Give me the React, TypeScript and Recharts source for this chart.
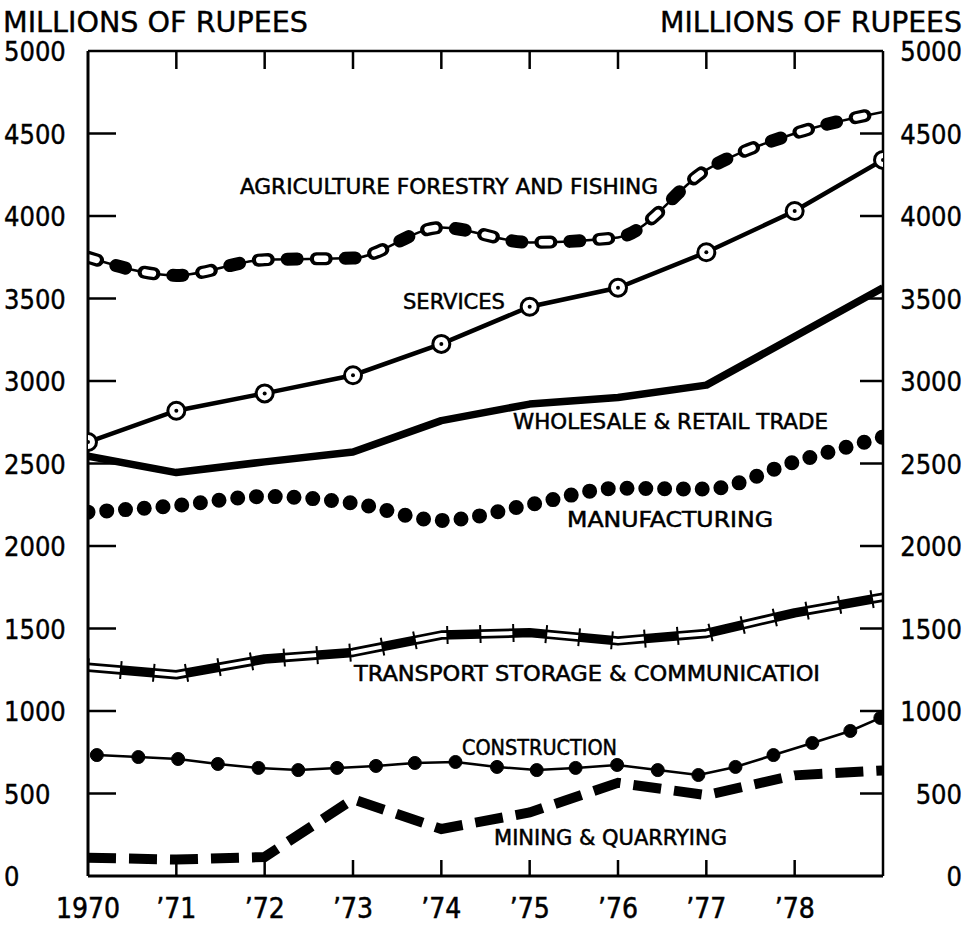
import React from 'react';
import { LineChart, Line, XAxis, YAxis } from 'recharts';

// ---- data ----
const years = [1970, 1971, 1972, 1973, 1974, 1975, 1976, 1977, 1978, 1979];
const yearTicks = [1970, 1971, 1972, 1973, 1974, 1975, 1976, 1977, 1978];
const yearLabels = ['1970', '’71', '’72', '’73', '’74', '’75', '’76', '’77', '’78'];
const valueTicks = [0, 500, 1000, 1500, 2000, 2500, 3000, 3500, 4000, 4500, 5000];

const agriculture = [3750, 3640, 3735, 3745, 3930, 3840, 3870, 4280, 4500, 4630];
const services = [2630, 2820, 2925, 3035, 3225, 3450, 3565, 3780, 4030, 4340];
const wholesale = [2545, 2445, 2510, 2570, 2760, 2860, 2900, 2975, 3270, 3565];
const manufacturing = [2205, 2245, 2300, 2260, 2155, 2250, 2350, 2345, 2510, 2660];
const transport = [1265, 1220, 1315, 1355, 1460, 1475, 1425, 1470, 1595, 1690];
const mining = [110, 100, 115, 465, 285, 385, 565, 490, 610, 640];

const constructionYears = [1970.1, 1970.57, 1971.02, 1971.47, 1971.93, 1972.38, 1972.82, 1973.26, 1973.7, 1974.16, 1974.63, 1975.08, 1975.52, 1975.99, 1976.45, 1976.91, 1977.33, 1977.76, 1978.2, 1978.63, 1978.97];
const constructionValues = [733, 721, 709, 679, 655, 642, 655, 667, 685, 691, 661, 642, 655, 673, 642, 612, 661, 733, 806, 879, 958];

const seriesNames = {
  agriculture: 'AGRICULTURE FORESTRY AND FISHING',
  services: 'SERVICES',
  wholesale: 'WHOLESALE & RETAIL TRADE',
  manufacturing: 'MANUFACTURING',
  transport: 'TRANSPORT STORAGE & COMMUNICATIOI',
  construction: 'CONSTRUCTION',
  mining: 'MINING & QUARRYING',
};
const axisTitle = 'MILLIONS OF RUPEES';

const toRows = (vals: number[]) => years.map((y, i) => ({ year: y, v: vals[i] }));
const agriData = toRows(agriculture);
const servData = toRows(services);
const wholeData = toRows(wholesale);
const manuData = toRows(manufacturing);
const transData = toRows(transport);
const miningData = toRows(mining);
const constrData = constructionYears.map((y, i) => ({ year: y, v: constructionValues[i] }));

const FONT = "'DejaVu Sans', sans-serif";
const COND = "'DejaVu Sans Condensed', 'DejaVu Sans', sans-serif";
const NARROW = "'Liberation Sans Narrow', 'DejaVu Sans Condensed', sans-serif";

const BottomTick = (props: any) => {
  const { x, y, payload } = props;
  const idx = yearTicks.indexOf(payload.value);
  return (
    <g>
      {payload.value !== 1970 && (
        <line x1={x} x2={x} y1={y} y2={y - 16} stroke="#000" strokeWidth={2.5} />
      )}
      <text x={x} y={y + 42} textAnchor="middle" fontFamily={NARROW} fontSize={28} fill="#000" stroke="#000" strokeWidth={0.5}>
        {yearLabels[idx]}
      </text>
    </g>
  );
};

const TopTick = (props: any) => {
  const { x, y } = props;
  return <line x1={x} x2={x} y1={y} y2={y + 18} stroke="#000" strokeWidth={2.5} />;
};

const LeftTick = (props: any) => {
  const { x, y, payload } = props;
  const v = payload.value;
  return (
    <g>
      {v !== 0 && v !== 5000 && <line x1={x} x2={x + 28} y1={y} y2={y} stroke="#000" strokeWidth={2.5} />}
      <text x={x - 84} y={y + 10} textAnchor="start" fontFamily={COND} fontSize={27} fill="#000" stroke="#000" strokeWidth={0.4}>
        {v}
      </text>
    </g>
  );
};

const RightTick = (props: any) => {
  const { x, y, payload } = props;
  const v = payload.value;
  return (
    <g>
      {v !== 0 && v !== 5000 && <line x1={x - 23} x2={x} y1={y} y2={y} stroke="#000" strokeWidth={2.5} />}
      <text x={x + 79} y={y + 10} textAnchor="end" fontFamily={COND} fontSize={27} fill="#000" stroke="#000" strokeWidth={0.4}>
        {v}
      </text>
    </g>
  );
};

const ServiceDot = (props: any) => {
  const { cx, cy, index } = props;
  return (
    <g key={`sd-${index}`}>
      <circle cx={cx} cy={cy} r={8.5} fill="#fff" stroke="#000" strokeWidth={3} />
      <circle cx={cx} cy={cy} r={2} fill="#000" />
    </g>
  );
};

export default function App() {
  return (
    <div style={{ position: 'absolute', left: 0, top: 0, width: 973, height: 925, background: '#fff' }}>
      <LineChart width={973} height={925} margin={{ top: 50, right: 0, bottom: 0, left: 0 }}>
        <XAxis
          dataKey="year"
          type="number"
          domain={[1970, 1979]}
          allowDataOverflow
          ticks={yearTicks}
          interval={0}
          height={49}
          tickSize={0}
          tickMargin={0}
          tickLine={false}
          axisLine={{ stroke: '#000', strokeWidth: 3 }}
          tick={BottomTick}
        />
        <XAxis
          xAxisId="top"
          orientation="top"
          dataKey="year"
          type="number"
          domain={[1970, 1979]}
          allowDataOverflow
          ticks={[1971, 1972, 1973, 1974, 1975, 1976, 1977, 1978]}
          interval={0}
          height={1}
          tickSize={0}
          tickMargin={0}
          tickLine={false}
          axisLine={{ stroke: '#000', strokeWidth: 2.5 }}
          tick={TopTick}
        />
        <YAxis
          yAxisId="left"
          type="number"
          domain={[0, 5000]}
          allowDataOverflow
          ticks={valueTicks}
          interval={0}
          width={88}
          tickSize={0}
          tickMargin={0}
          tickLine={false}
          axisLine={{ stroke: '#000', strokeWidth: 3 }}
          tick={LeftTick}
        />
        <YAxis
          yAxisId="right"
          orientation="right"
          type="number"
          domain={[0, 5000]}
          allowDataOverflow
          ticks={valueTicks}
          interval={0}
          width={90}
          tickSize={0}
          tickMargin={0}
          tickLine={false}
          axisLine={{ stroke: '#000', strokeWidth: 2.5 }}
          tick={RightTick}
        />
        <Line data={servData} xAxisId="top" yAxisId="right" dataKey="v" stroke="none" dot={false} activeDot={false} isAnimationActive={false} />

        {/* Mining & quarrying */}
        <Line data={miningData} yAxisId="left" dataKey="v" type="linear" stroke="#000" strokeWidth={10} strokeDasharray="28 13" dot={false} activeDot={false} isAnimationActive={false} />

        {/* Construction */}
        <Line data={constrData} yAxisId="left" dataKey="v" type="linear" stroke="#000" strokeWidth={2.6} dot={{ r: 6.5, fill: '#000', stroke: '#000', strokeWidth: 1 }} activeDot={false} isAnimationActive={false} />

        {/* Transport storage & communication */}
        <Line data={transData} yAxisId="left" dataKey="v" type="linear" stroke="#000" strokeWidth={9.5} strokeLinejoin="round" dot={false} activeDot={false} isAnimationActive={false} />
        <Line data={transData} yAxisId="left" dataKey="v" type="linear" stroke="#fff" strokeWidth={4} strokeDasharray="33 33" dot={false} activeDot={false} isAnimationActive={false} />
        <Line data={transData} yAxisId="left" dataKey="v" type="linear" stroke="#000" strokeWidth={18} strokeDasharray="2 31" strokeDashoffset={1} dot={false} activeDot={false} isAnimationActive={false} />

        {/* Manufacturing */}
        <Line data={manuData} yAxisId="left" dataKey="v" type="monotone" stroke="#000" strokeWidth={15} strokeDasharray="0 18.8" strokeLinecap="round" dot={false} activeDot={false} isAnimationActive={false} />

        {/* Wholesale & retail trade */}
        <Line data={wholeData} yAxisId="left" dataKey="v" type="linear" stroke="#000" strokeWidth={7.5} strokeLinejoin="round" dot={false} activeDot={false} isAnimationActive={false} />

        {/* Services */}
        <Line data={servData} yAxisId="left" dataKey="v" type="linear" stroke="#000" strokeWidth={4.5} dot={ServiceDot} activeDot={false} isAnimationActive={false} />

        {/* Agriculture forestry and fishing */}
        <Line data={agriData} yAxisId="left" dataKey="v" type="monotone" stroke="#000" strokeWidth={2.5} dot={false} activeDot={false} isAnimationActive={false} />
        <Line data={agriData} yAxisId="left" dataKey="v" type="monotone" stroke="#000" strokeWidth={13} strokeDasharray="10 19" strokeLinecap="round" dot={false} activeDot={false} isAnimationActive={false} />
        <Line data={agriData} yAxisId="left" dataKey="v" type="monotone" stroke="#fff" strokeWidth={6.5} strokeDasharray="8 50" strokeDashoffset={-1} strokeLinecap="round" dot={false} activeDot={false} isAnimationActive={false} />
      </LineChart>

      <svg width={973} height={925} style={{ position: 'absolute', left: 0, top: 0, pointerEvents: 'none' }}>
        <g fontFamily={FONT} fill="#000" stroke="#000" strokeWidth={0.4}>
          <text x={3} y={32} fontSize={28} textLength={305} lengthAdjust="spacingAndGlyphs">{axisTitle}</text>
          <text x={660} y={32} fontSize={28} textLength={302} lengthAdjust="spacingAndGlyphs">{axisTitle}</text>
        </g>
        <g fontFamily={COND} fill="#000" fontSize={22} stroke="#000" strokeWidth={0.5}>
          <text x={240} y={194} textLength={418} lengthAdjust="spacingAndGlyphs">{seriesNames.agriculture}</text>
          <text x={403} y={309} textLength={102} lengthAdjust="spacingAndGlyphs">{seriesNames.services}</text>
          <text x={513} y={429} textLength={315} lengthAdjust="spacingAndGlyphs">{seriesNames.wholesale}</text>
          <text x={567} y={527} textLength={206} lengthAdjust="spacingAndGlyphs">{seriesNames.manufacturing}</text>
          <text x={354} y={681} textLength={466} lengthAdjust="spacingAndGlyphs">{seriesNames.transport}</text>
          <text x={462} y={755} textLength={155} lengthAdjust="spacingAndGlyphs">{seriesNames.construction}</text>
          <text x={494} y={845} textLength={233} lengthAdjust="spacingAndGlyphs">{seriesNames.mining}</text>
        </g>
      </svg>
    </div>
  );
}
